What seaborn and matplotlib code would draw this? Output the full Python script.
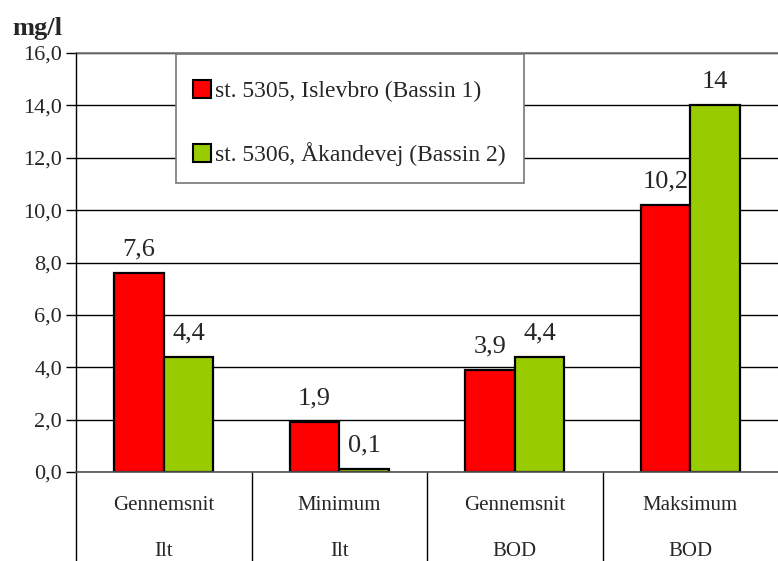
import matplotlib
matplotlib.use("Agg")
import matplotlib.pyplot as plt
import matplotlib.transforms as mtransforms
import pandas as pd
import seaborn as sns
from matplotlib.patches import Rectangle
from matplotlib.ticker import FuncFormatter, MultipleLocator

measures = ["Gennemsnit", "Minimum", "Gennemsnit", "Maksimum"]
parameters = ["Ilt", "Ilt", "BOD", "BOD"]
series_names = ["st. 5305, Islevbro (Bassin 1)", "st. 5306, Åkandevej (Bassin 2)"]
bassin1 = [7.6, 1.9, 3.9, 10.2]
bassin2 = [4.4, 0.1, 4.4, 14]
colors = ["#ff0000", "#99cc00"]

keys = [f"{m} {p}" for m, p in zip(measures, parameters)]
df = pd.DataFrame({
    "key": keys * 2,
    "series": [series_names[0]] * 4 + [series_names[1]] * 4,
    "value": bassin1 + bassin2,
})

sns.set_theme(style="white")
plt.rcParams["font.family"] = ["Liberation Serif", "DejaVu Serif"]

fig = plt.figure(figsize=(7.78, 5.61), dpi=100)
ax = fig.add_axes([76 / 778, 89 / 561, 702 / 778, 419 / 561])

sns.barplot(data=df, x="key", y="value", hue="series", order=keys,
            hue_order=series_names, palette=colors, width=0.565,
            edgecolor="black", linewidth=1.6, saturation=1, ax=ax)

ax.set_ylim(0, 16)
ax.set_xlim(-0.5, 3.5)
ax.yaxis.set_major_locator(MultipleLocator(2))
ax.yaxis.set_major_formatter(FuncFormatter(lambda v, _: f"{v:.1f}".replace(".", ",")))
ax.grid(axis="y", color="black", linewidth=1)
ax.set_axisbelow(True)
ax.tick_params(axis="y", length=7, width=1, color="black", direction="out",
               labelsize=16, left=True, pad=3)
ax.set_xticks([])
ax.set_xlabel("")
ax.set_ylabel("")
for side in ["top", "right"]:
    ax.spines[side].set_visible(False)
ax.spines["left"].set_color("black")
ax.spines["left"].set_linewidth(1)
ax.spines["bottom"].set_color("#555555")
ax.spines["bottom"].set_linewidth(1.2)
ax.axhline(16, color="#777777", linewidth=1.2, clip_on=False)

# value labels
for cont in ax.containers:
    labels = [f"{b.get_height():g}".replace(".", ",") for b in cont]
    ax.bar_label(cont, labels=labels, padding=9, fontsize=19)

# two-level category axis
trans = mtransforms.blended_transform_factory(ax.transData, ax.transAxes)
for i, (m, p) in enumerate(zip(measures, parameters)):
    ax.text(i, -0.08, m, transform=trans, ha="center", va="center", fontsize=15)
    ax.text(i, -0.19, p, transform=trans, ha="center", va="center", fontsize=15)
for b in [-0.5, 0.5, 1.5, 2.5]:
    ax.plot([b, b], [0, -0.215], transform=trans, color="black", linewidth=1,
            clip_on=False)

fig.text(12 / 778, 1 - 28 / 561, "mg/l", fontsize=19, fontweight="bold",
         ha="left", va="center")

# legend box drawn separately (Excel style: more vertical than horizontal padding)
ax.add_patch(Rectangle((100 / 702, 289 / 419), 348 / 702, 129 / 419,
                       transform=ax.transAxes, facecolor="white",
                       edgecolor="#777777", linewidth=1.2, zorder=4,
                       clip_on=False))
leg = ax.legend(loc="upper left", bbox_to_anchor=(117 / 702, 0.935),
                frameon=False, fontsize=17,
                handlelength=0.75, handleheight=0.75, handletextpad=0.2,
                labelspacing=1.7, borderpad=0, borderaxespad=0)
leg.set_zorder(5)
for h in leg.legend_handles:
    h.set_edgecolor("black")
    h.set_linewidth(1.5)

fig.savefig("out.png", dpi=100)
